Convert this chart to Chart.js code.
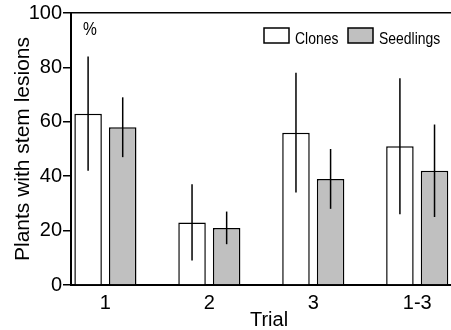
<!DOCTYPE html>
<html>
<head>
<meta charset="utf-8">
<script src="https://cdn.jsdelivr.net/npm/chart.js@4"></script>
<style>
    html, body { margin: 0; padding: 0; background: #fff; }
</style>
</head>
<body>
<canvas id="chartLesiones" width="451" height="330"></canvas>
<script>
// Ensayos y porcentajes de plantas con lesiones en el tallo
const ensayos = ['1', '2', '3', '1-3'];
const posiciones = [1, 2, 3, 4];
const clones = [63, 23, 56, 51];
const clonesMin = [42, 9, 34, 26];
const clonesMax = [84, 37, 78, 76];
const plantulas = [58, 21, 39, 42];
const plantulasMin = [47, 15, 28, 25];
const plantulasMax = [69, 27, 50, 59];
const ticksY = [0, 20, 40, 60, 80, 100];

const fuente = '"Liberation Sans", Arial, Helvetica, sans-serif';

// Texto angosto: se comprime en horizontal porque no hay fuente "Narrow"
function textoAngosto(ctx, texto, x, y, size) {
    ctx.save();
    ctx.font = size + 'px ' + fuente;
    ctx.translate(x, y);
    ctx.scale(0.82, 1);
    ctx.fillText(texto, 0, 0);
    ctx.restore();
};

// Líneas verticales de error sobre cada barra
const barrasError = {
    id: 'barrasError',
    afterDatasetsDraw(chart) {
        const ctx = chart.ctx;
        const escalaY = chart.scales.y;
        const rangos = [[clonesMin, clonesMax], [plantulasMin, plantulasMax]];
        ctx.save();
        ctx.strokeStyle = '#000';
        ctx.lineWidth = 1.5;
        chart.data.datasets.forEach((ds, i) => {
            const meta = chart.getDatasetMeta(i);
            meta.data.forEach((barra, j) => {
                ctx.beginPath();
                ctx.moveTo(barra.x, escalaY.getPixelForValue(rangos[i][0][j]));
                ctx.lineTo(barra.x, escalaY.getPixelForValue(rangos[i][1][j]));
                ctx.stroke();
            });
        });
        ctx.restore();
    }
};

// Leyenda dentro del área, el signo % y el título del eje X
const textosExtra = {
    id: 'textosExtra',
    afterDraw(chart) {
        const ctx = chart.ctx;
        ctx.save();
        ctx.fillStyle = '#000';
        ctx.textBaseline = 'alphabetic';
        ctx.textAlign = 'left';
        textoAngosto(ctx, '%', 83, 35, 19);

        const cajas = [264, 348];
        chart.data.datasets.forEach((ds, i) => {
            ctx.fillStyle = ds.backgroundColor;
            ctx.fillRect(cajas[i], 28, 25, 15);
            ctx.strokeStyle = '#000';
            ctx.lineWidth = 1.5;
            ctx.strokeRect(cajas[i], 28, 25, 15);
            ctx.fillStyle = '#000';
            textoAngosto(ctx, ds.label, cajas[i] + 31, 44, 17);
        });

        ctx.font = '20px ' + fuente;
        ctx.textAlign = 'center';
        ctx.fillText('Trial', 269, 326);
        ctx.restore();
    }
};

const data = {
    datasets: [
        {
            label: 'Clones',
            data: posiciones.map((p, i) => ({ x: p, y: clones[i] })),
            backgroundColor: '#ffffff',
            borderColor: '#000',
            borderWidth: 1.5
        },
        {
            label: 'Seedlings',
            data: posiciones.map((p, i) => ({ x: p, y: plantulas[i] })),
            backgroundColor: '#c0c0c0',
            borderColor: '#000',
            borderWidth: 1.5
        }
    ]
};

const config = {
    type: 'bar',
    data: data,
    plugins: [barrasError, textosExtra],
    options: {
        responsive: false,
        animation: false,
        layout: { padding: { top: 13, right: 0, left: 0, bottom: 0 } },
        categoryPercentage: 0.666,
        barPercentage: 0.795,
        plugins: {
            legend: { display: false },
            tooltip: { enabled: false }
        },
        scales: {
            x: {
                type: 'linear',
                offset: false,
                min: 0.669,
                max: 4.325,
                afterBuildTicks: (escala) => {
                    escala.ticks = posiciones.map(v => ({ value: v }));
                },
                afterFit: (escala) => { escala.height = 45; },
                grid: { display: false, drawTicks: false },
                border: { display: true, color: '#000', width: 2 },
                ticks: {
                    color: '#000',
                    padding: 6,
                    font: { family: fuente, size: 20 },
                    callback: (valor) => ensayos[posiciones.indexOf(valor)] ?? ''
                }
            },
            y: {
                min: 0,
                max: 100,
                afterBuildTicks: (escala) => {
                    escala.ticks = ticksY.map(v => ({ value: v }));
                },
                afterFit: (escala) => { escala.width = 71; },
                grid: {
                    color: (c) => c.tick && c.tick.value === 100 ? '#000' : 'rgba(0,0,0,0)',
                    lineWidth: 1.5,
                    tickColor: '#000',
                    tickLength: 8,
                    tickWidth: 1.5
                },
                border: { display: true, color: '#000', width: 2 },
                ticks: {
                    color: '#000',
                    padding: 1,
                    font: { family: fuente, size: 20 }
                },
                title: {
                    display: true,
                    text: 'Plants with stem lesions',
                    color: '#000',
                    font: { family: fuente, size: 21 },
                    padding: { top: 11, bottom: 0 }
                }
            }
        }
    }
};

new Chart(document.getElementById('chartLesiones').getContext('2d'), config);
</script>
</body>
</html>
